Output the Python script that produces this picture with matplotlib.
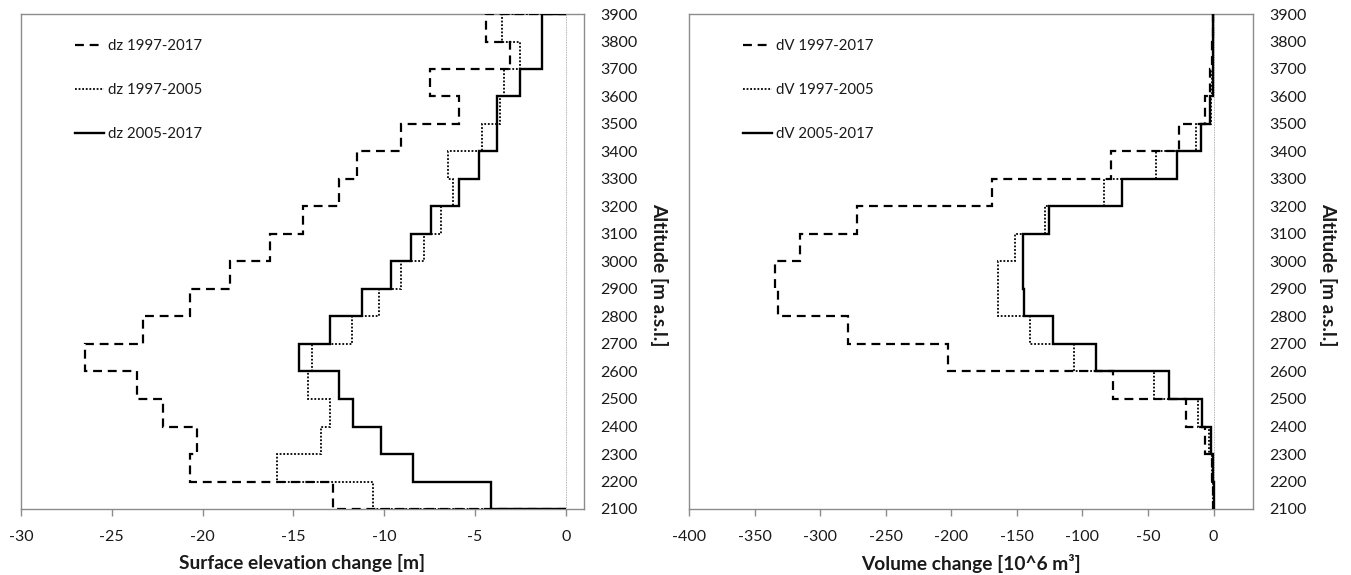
import matplotlib
matplotlib.use("Agg")
import matplotlib.pyplot as plt

# altitude band edges [m a.s.l.]
altitude_edges = [2100, 2200, 2300, 2400, 2500, 2600, 2700, 2800, 2900, 3000,
                  3100, 3200, 3300, 3400, 3500, 3600, 3700, 3800, 3900]

# surface elevation change per band [m], bottom band first
dz_1997_2017 = [-12.8, -20.7, -20.3, -22.2, -23.6, -26.5, -23.3, -20.7, -18.5,
                -16.3, -14.5, -12.5, -11.5, -9.1, -5.9, -7.5, -3.1, -4.4]
dz_1997_2005 = [-10.6, -15.9, -13.5, -13.0, -14.2, -14.0, -11.8, -10.3, -9.1,
                -7.8, -6.9, -6.2, -6.5, -4.6, -3.6, -3.4, -2.5, -3.5]
dz_2005_2017 = [-4.1, -8.4, -10.2, -11.7, -12.5, -14.7, -13.0, -11.2, -9.6,
                -8.5, -7.4, -5.9, -4.8, -3.8, -3.8, -2.5, -1.3, -1.3]

# volume change per band [10^6 m3]
dV_1997_2017 = [-0.3, -1.0, -6.4, -21.2, -76.5, -202.3, -278.5, -332.0, -334.4,
                -315.3, -272.0, -168.8, -78.6, -26.3, -6.4, -3.0, -1.0, -0.5]
dV_1997_2005 = [-0.2, -1.0, -3.8, -12.2, -45.4, -106.4, -140.3, -164.5, -164.5,
                -151.5, -128.7, -83.4, -43.9, -13.3, -2.0, -1.0, -0.5, -0.2]
dV_2005_2017 = [-0.1, -0.5, -2.0, -8.9, -33.7, -89.8, -122.3, -144.6, -145.0,
                -145.0, -125.5, -70.0, -28.0, -9.7, -3.0, -0.5, -0.3, -0.2]

left_ticks = [-30, -25, -20, -15, -10, -5, 0]
right_ticks = [-400, -350, -300, -250, -200, -150, -100, -50, 0]
alt_ticks = [2100, 2200, 2300, 2400, 2500, 2600, 2700, 2800, 2900, 3000,
             3100, 3200, 3300, 3400, 3500, 3600, 3700, 3800, 3900]

plt.rcParams['font.family'] = ['Lato', 'DejaVu Sans']
GREY = '#8c8c8c'
TXT = '#1a1a1a'

fig = plt.figure(figsize=(13.51, 5.75), dpi=100)
ax1 = fig.add_axes([21 / 1351, 1 - 509 / 575, 563 / 1351, 495 / 575])
ax2 = fig.add_axes([689 / 1351, 1 - 509 / 575, 564 / 1351, 495 / 575])

styles = [dict(linestyle=(0, (4, 2.6)), linewidth=1.6),
          dict(linestyle=(0, (1, 1)), linewidth=1.3),
          dict(linestyle='-', linewidth=1.7)]


def draw_panel(ax, series, labels, xlim, xticks, xlabel):
    ax.axvline(0, color='#9a9a9a', linewidth=0.6, linestyle=(0, (1, 1)), zorder=1)
    for vals, lab, st in zip(series, labels, styles):
        ax.stairs(vals, altitude_edges, orientation='horizontal', baseline=0,
                  fill=False, color='black', label=lab, zorder=3, **st)
    ax.set_xlim(*xlim)
    ax.set_ylim(2100, 3900)
    ax.set_xticks(xticks)
    ax.set_xticklabels([str(t) for t in xticks])
    ax.set_yticks(alt_ticks)
    ax.yaxis.tick_right()
    ax.yaxis.set_label_position('right')
    ax.tick_params(axis='y', length=0, pad=12, labelsize=11.5, labelcolor=TXT)
    ax.tick_params(axis='x', length=5, width=1, color=GREY, pad=10,
                   labelsize=11.5, labelcolor=TXT)
    for s in ax.spines.values():
        s.set_color(GREY)
        s.set_linewidth(1)
    ax.set_xlabel(xlabel, fontsize=13.8, fontweight='bold', color=TXT, labelpad=7)
    ax.set_ylabel('Altitude [m a.s.l.]', fontsize=13.8, fontweight='bold',
                  color=TXT, rotation=-90, va='bottom')
    # Excel puts the axis title a little below the middle
    ax.yaxis.set_label_coords(1.117, 0.473)
    ax.legend(loc='upper left', bbox_to_anchor=(0.096, 0.95), frameon=False,
              fontsize=10.8, handlelength=1.9, handletextpad=0.3,
              labelspacing=2.0, borderaxespad=0, borderpad=0,
              labelcolor=TXT)


draw_panel(ax1, [dz_1997_2017, dz_1997_2005, dz_2005_2017],
           ['dz 1997-2017', 'dz 1997-2005', 'dz 2005-2017'],
           (-30, 1), left_ticks, 'Surface elevation change [m]')
draw_panel(ax2, [dV_1997_2017, dV_1997_2005, dV_2005_2017],
           ['dV 1997-2017', 'dV 1997-2005', 'dV 2005-2017'],
           (-400, 30), right_ticks, 'Volume change [10^6 m³]')

fig.savefig('out.png', dpi=100)
